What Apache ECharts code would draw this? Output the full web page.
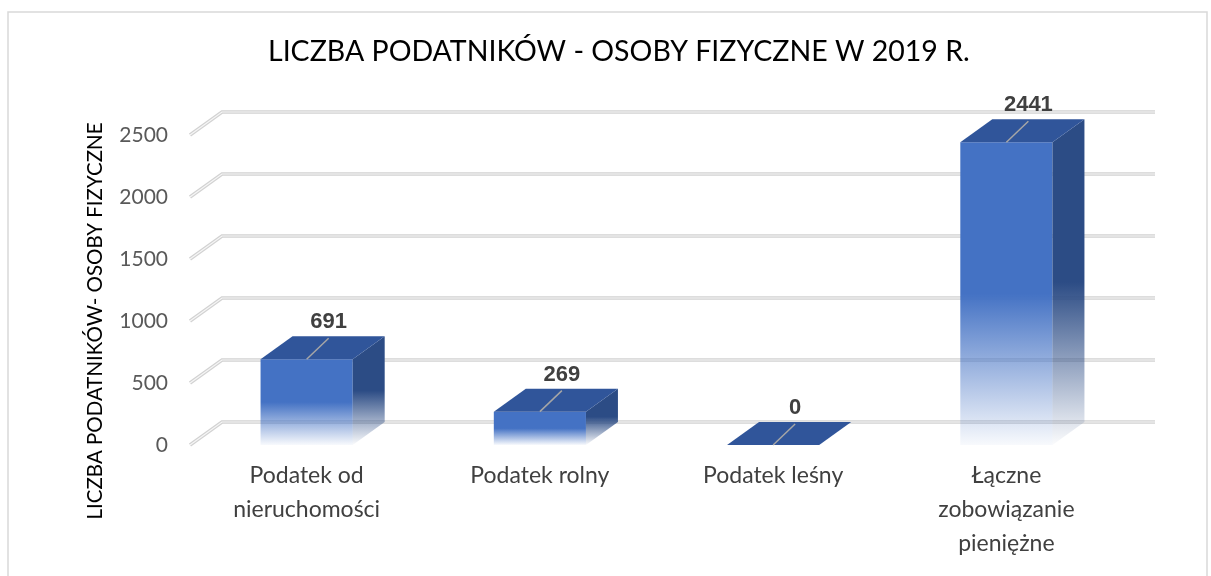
<!DOCTYPE html>
<html>
<head>
<meta charset="utf-8">
<script src="https://cdn.jsdelivr.net/npm/echarts@6/dist/echarts.min.js"></script>
<style>
  html, body { margin: 0; padding: 0; background: #fff; }
  #chart { width: 1211px; height: 576px; }
</style>
</head>
<body>
<div id="chart"></div>
<script>
// dane z wykresu
const categories = ['Podatek od\nnieruchomości', 'Podatek rolny', 'Podatek leśny', 'Łączne\nzobowiązanie\npieniężne']
const values = [691, 269, 0, 2441]
const yTicks = [0, 500, 1000, 1500, 2000, 2500]

// przesunięcie "głębi" 3D
const DX = 32
const DY = -23

const chart = echarts.init(document.getElementById('chart'))

// linie siatki łamane jak w Excelu (przód -> tył)
const renderGrid = function (params, api) {
  const cs = params.coordSys
  const y = api.coord([0, api.value(1)])[1]
  const pts = [[cs.x, y], [cs.x + DX, y + DY], [cs.x + cs.width + DX, y + DY]]
  return {
    type: 'group',
    children: [
      { type: 'polyline', shape: { points: pts }, style: { stroke: '#d2d2d2', lineWidth: 3.5, fill: null } },
      { type: 'polyline', shape: { points: pts }, style: { stroke: '#f6f6f6', lineWidth: 1.2, fill: null } }
    ]
  }
}

// słupek 3D
const renderBar = function (params, api) {
  const i = api.value(0)
  const v = api.value(1)
  const base = api.coord([i, 0])
  const top = api.coord([i, v])
  const w = api.size([1, 0])[0] * 0.395
  const cx = base[0]
  const x0 = cx - w / 2
  const x1 = cx + w / 2
  const yb = base[1]
  const yt = top[1]
  const children = []
  if (yb - yt > 0.5) {
    children.push({
      type: 'rect',
      shape: { x: x0, y: yt, width: w, height: yb - yt },
      style: {
        fill: new echarts.graphic.LinearGradient(0, 0, 0, 1, [
          { offset: 0, color: '#4472C4' },
          { offset: 0.5, color: '#4472C4' },
          { offset: 1, color: 'rgba(68,114,196,0.04)' }
        ])
      }
    })
    children.push({
      type: 'polygon',
      shape: { points: [[x1, yt], [x1 + DX, yt + DY], [x1 + DX, yb + DY], [x1, yb]] },
      style: {
        fill: new echarts.graphic.LinearGradient(0, 0, 0, 1, [
          { offset: 0, color: '#2C4C85' },
          { offset: 0.5, color: '#2C4C85' },
          { offset: 1, color: 'rgba(44,76,133,0.02)' }
        ])
      }
    })
  }
  children.push({
    type: 'polygon',
    shape: { points: [[x0, yt], [x0 + DX, yt + DY], [x1 + DX, yt + DY], [x1, yt]] },
    style: { fill: '#30559A' }
  })
  children.push({
    type: 'line',
    shape: { x1: cx, y1: yt, x2: cx + 22, y2: yt - 21 },
    style: { stroke: '#A6A6A6', lineWidth: 1.5 }
  })
  children.push({
    type: 'text',
    x: cx + 22,
    y: yt - 37,
    style: {
      text: String(v),
      align: 'center',
      verticalAlign: 'middle',
      font: 'bold 22px "Liberation Sans", Arial, sans-serif',
      fill: '#404040'
    }
  })
  return { type: 'group', children: children }
}

const option = {
  animation: false,
  backgroundColor: '#fff',
  title: {
    text: 'LICZBA PODATNIKÓW - OSOBY FIZYCZNE W 2019 R.',
    left: 268,
    top: 37,
    padding: 0,
    textStyle: {
      fontFamily: 'Lato',
      fontWeight: 'normal',
      fontSize: 28.5,
      color: '#000'
    }
  },
  graphic: [
    {
      type: 'rect',
      shape: { x: 8, y: 12, width: 1199, height: 600 },
      style: { fill: null, stroke: '#d9d9d9', lineWidth: 1.5 },
      silent: true
    },
    {
      // tytuł osi Y
      type: 'text',
      x: 95,
      y: 321,
      rotation: Math.PI / 2,
      style: {
        text: 'LICZBA PODATNIKÓW- OSOBY FIZYCZNE',
        align: 'center',
        verticalAlign: 'middle',
        font: '20.5px Lato',
        fill: '#000'
      }
    }
  ],
  grid: {
    left: 190,
    right: 88,
    top: 135,
    bottom: 131
  },
  xAxis: {
    type: 'category',
    data: categories,
    axisLine: { show: false },
    axisTick: { show: false },
    splitLine: { show: false },
    axisLabel: {
      interval: 0,
      margin: 14,
      lineHeight: 34,
      fontFamily: 'Lato',
      fontSize: 23,
      color: '#404040'
    }
  },
  yAxis: {
    type: 'value',
    min: 0,
    max: 2500,
    interval: 500,
    axisLine: { show: false },
    axisTick: { show: false },
    splitLine: { show: false },
    axisLabel: {
      margin: 22,
      fontFamily: 'Lato',
      fontSize: 21,
      color: '#595959',
      formatter: function (value) {
        return String(value)
      }
    }
  },
  series: [
    {
      type: 'custom',
      z: 1,
      silent: true,
      renderItem: renderGrid,
      data: yTicks.map(function (t) { return [0, t] })
    },
    {
      type: 'custom',
      z: 2,
      renderItem: renderBar,
      data: values.map(function (v, i) { return [i, v] })
    }
  ]
}

chart.setOption(option)
window.addEventListener('resize', () => {
  chart.resize()
})
</script>
</body>
</html>
